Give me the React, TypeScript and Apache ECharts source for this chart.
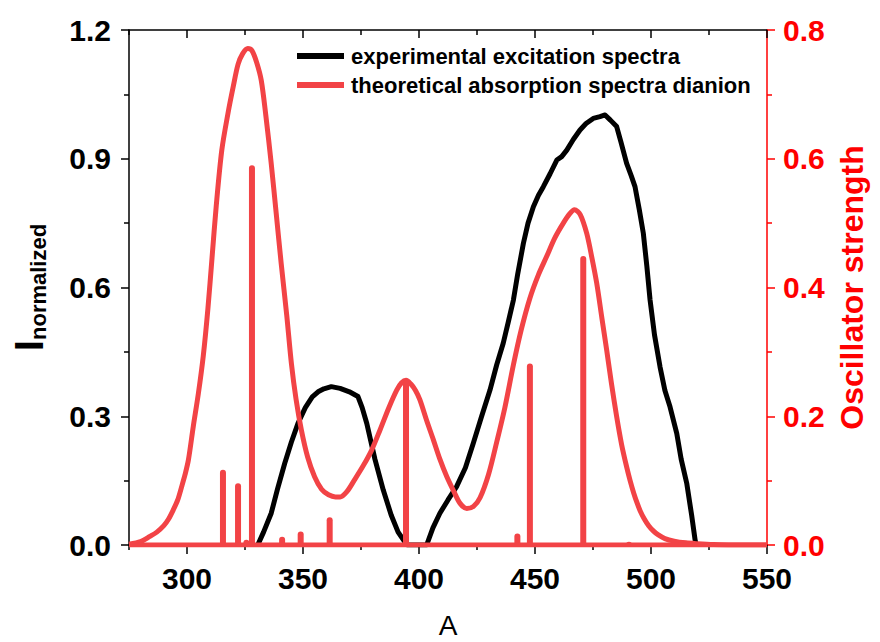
import React, { useEffect, useRef } from "react";
import * as echarts from "echarts";

// Experimental excitation spectrum (left axis, normalized)
const expX = [330.5, 333, 336.3, 339, 342.1, 345, 347.8, 351, 354, 356.5, 359, 362.2, 366, 370, 373.7, 375.5, 377.5, 381, 384.6, 388, 391, 393.5, 395,
  403.3, 406, 409, 412.5, 416.2, 420, 423.4, 427, 430.6, 433.5, 436.3, 438.5, 440.7, 442.5, 445, 447, 449.3, 451.5, 453.6, 456.5, 459.4, 461.5, 463.7,
  466.5, 469.4, 472, 475.1, 478, 480.2, 482.5, 485.2, 487, 489.5, 491.5, 493.1, 495, 496.7, 498.2, 499.6, 501.5, 503.9, 506, 508.2, 511.1, 513, 515.4,
  517.5, 519, 519.5];
const expY = [0, 0.03, 0.074, 0.13, 0.19, 0.24, 0.283, 0.32, 0.345, 0.357, 0.364, 0.369, 0.365, 0.357, 0.346, 0.32, 0.283, 0.2, 0.128, 0.07, 0.03, 0.01, 0,
  0, 0.04, 0.074, 0.105, 0.136, 0.18, 0.237, 0.3, 0.361, 0.42, 0.47, 0.52, 0.571, 0.63, 0.703, 0.75, 0.788, 0.815, 0.835, 0.865, 0.897, 0.905, 0.92,
  0.945, 0.967, 0.982, 0.994, 0.998, 1.002, 0.99, 0.975, 0.94, 0.889, 0.86, 0.835, 0.78, 0.726, 0.65, 0.571, 0.49, 0.415, 0.36, 0.322, 0.26, 0.2, 0.144,
  0.07, 0.012, 0];

// Theoretical absorption spectrum (left axis scale)
const theoX = [275, 280, 284, 287, 290, 292, 294.1, 296, 297.7, 299.2, 300.6, 302.7, 304.9, 307, 309, 310.8, 312.6, 315, 317.7, 320, 322, 324, 326.2,
  328, 330, 332, 334, 336.3, 338.5, 340.6, 343, 345, 347, 349.3, 352, 355, 358, 361, 364, 366, 369, 372, 376, 379.5, 383.2, 387, 390.4, 392.5, 394.4,
  396.5, 398.5, 400.4, 403.3, 406.2, 409, 412, 415, 417.7, 420.6, 423.5, 426.3, 430, 433.5, 437, 440.7, 444, 447.8, 451.5, 455, 458.5, 462.2, 465, 467,
  469.5, 472.3, 474.5, 476.6, 478.8, 480.9, 483, 485.2, 487.3, 489.5, 491, 492.5, 494, 495.3, 497, 499, 501, 503, 506, 510, 515, 520, 527, 535, 550];
const theoY = [0.002, 0.008, 0.02, 0.03, 0.045, 0.06, 0.082, 0.105, 0.136, 0.165, 0.198, 0.276, 0.353, 0.44, 0.55, 0.67, 0.79, 0.92, 1.007, 1.07, 1.12,
  1.145, 1.157, 1.152, 1.125, 1.083, 1.0, 0.889, 0.77, 0.656, 0.535, 0.423, 0.34, 0.268, 0.205, 0.159, 0.13, 0.117, 0.112, 0.112, 0.125, 0.15, 0.185,
  0.22, 0.268, 0.32, 0.361, 0.378, 0.384, 0.375, 0.36, 0.338, 0.29, 0.245, 0.2, 0.159, 0.125, 0.097, 0.085, 0.09, 0.11, 0.165, 0.24, 0.32, 0.42, 0.5,
  0.575, 0.63, 0.672, 0.715, 0.75, 0.772, 0.781, 0.77, 0.726, 0.67, 0.61, 0.53, 0.454, 0.375, 0.299, 0.235, 0.182, 0.15, 0.122, 0.098, 0.08, 0.062,
  0.045, 0.033, 0.024, 0.015, 0.009, 0.005, 0.003, 0.001, 0, 0];

// Oscillator strengths (right axis)
const stickX = [315.5, 322, 325.6, 328, 341, 349, 361.5, 394.4, 442.4, 447.8, 470.8, 490.5];
const stickY = [0.117, 0.096, 0.008, 0.59, 0.013, 0.021, 0.043, 0.256, 0.018, 0.282, 0.449, 0.005];
const stickBaseX = [275, 550];
const stickBaseY = [0, 0];

const xMajor = [300, 350, 400, 450, 500, 550];
const xMinor = [275, 325, 375, 425, 475, 525];

const RED = "#F24346";
const AXIS_RED = "#FF0000";
const FONT = "Liberation Sans, Arial, sans-serif";

export default function App() {
  const ref = useRef<HTMLDivElement>(null);
  useEffect(() => {
    if (!ref.current) return;
    const chart = echarts.init(ref.current, undefined, { renderer: "svg" });
    const baseX = { type: "value", min: 275, max: 550, splitLine: { show: false } };
    chart.setOption({
      animation: false,
      backgroundColor: "#ffffff",
      textStyle: { fontFamily: FONT },
      grid: { left: 129, right: 113, top: 30, bottom: 97, containLabel: false, outerBoundsMode: "none" },
      legend: {
        data: ["experimental excitation spectra", "theoretical absorption spectra dianion"],
        orient: "vertical",
        left: 297,
        top: 45,
        padding: 0,
        icon: "rect",
        itemWidth: 47,
        itemHeight: 6,
        itemGap: 7,
        textStyle: { fontSize: 22, fontWeight: "bold", color: "#000", fontFamily: FONT, lineHeight: 22, padding: [0, 0, 0, 2] },
      },
      xAxis: [
        {
          ...baseX,
          position: "bottom",
          name: "A",
          nameLocation: "middle",
          nameGap: 66,
          nameTextStyle: { fontSize: 28, color: "#000", fontFamily: FONT },
          axisLine: { show: true, onZero: false, lineStyle: { color: "#000", width: 1.5 } },
          axisTick: { show: true, customValues: xMajor, length: 9, lineStyle: { color: "#000", width: 1.5 } },
          axisLabel: { customValues: xMajor, fontSize: 30, fontWeight: "bold", color: "#000", margin: 18, fontFamily: FONT },
        },
        {
          ...baseX,
          position: "bottom",
          axisLine: { show: false, onZero: false },
          axisTick: { show: true, customValues: xMinor, length: 5, lineStyle: { color: "#000", width: 1.5 } },
          axisLabel: { show: false },
        },
        {
          ...baseX,
          position: "top",
          axisLine: { show: true, onZero: false, lineStyle: { color: "#000", width: 1.5 } },
          axisTick: { show: true, inside: true, customValues: xMajor, length: 8, lineStyle: { color: "#000", width: 1.5 } },
          axisLabel: { show: false },
        },
        {
          ...baseX,
          position: "top",
          axisLine: { show: false, onZero: false },
          axisTick: { show: true, inside: true, customValues: xMinor, length: 5, lineStyle: { color: "#000", width: 1.5 } },
          axisLabel: { show: false },
        },
      ],
      yAxis: [
        {
          type: "value",
          position: "left",
          min: 0,
          max: 1.2,
          interval: 0.3,
          name: "{i|I}{s|normalized}",
          nameLocation: "middle",
          nameRotate: 90,
          nameGap: 80,
          nameTextStyle: {
            rich: {
              i: { fontSize: 40, fontWeight: "bold", color: "#000", fontFamily: FONT, verticalAlign: "bottom" },
              s: { fontSize: 22, fontWeight: "bold", color: "#000", fontFamily: FONT, verticalAlign: "bottom" },
            },
          },
          splitLine: { show: false },
          axisLine: { show: true, onZero: false, lineStyle: { color: "#000", width: 1.5 } },
          axisTick: { show: true, length: 8, lineStyle: { color: "#000", width: 1.5 } },
          minorTick: { show: true, splitNumber: 2, length: 5, lineStyle: { color: "#000", width: 1.5 } },
          axisLabel: { fontSize: 30, fontWeight: "bold", color: "#000", margin: 18, fontFamily: FONT, formatter: (v: number) => v.toFixed(1) },
        },
        {
          type: "value",
          position: "right",
          min: 0,
          max: 0.8,
          interval: 0.2,
          name: "Oscillator strength",
          nameLocation: "middle",
          nameRotate: 90,
          nameGap: 68,
          nameTextStyle: { fontSize: 32, fontWeight: "bold", color: AXIS_RED, fontFamily: FONT },
          splitLine: { show: false },
          axisLine: { show: true, onZero: false, lineStyle: { color: AXIS_RED, width: 1.5 } },
          axisTick: { show: true, length: 8, lineStyle: { color: AXIS_RED, width: 1.5 } },
          minorTick: { show: true, splitNumber: 2, length: 5, lineStyle: { color: AXIS_RED, width: 1.5 } },
          axisLabel: { fontSize: 30, fontWeight: "bold", color: AXIS_RED, margin: 16, fontFamily: FONT, formatter: (v: number) => v.toFixed(1) },
        },
      ],
      series: [
        {
          name: "experimental excitation spectra",
          type: "line",
          xAxisIndex: 0,
          yAxisIndex: 0,
          data: expX.map((x, i) => [x, expY[i]]),
          symbol: "none",
          lineStyle: { color: "#000", width: 5, join: "round" },
          itemStyle: { color: "#000" },
          z: 2,
        },
        {
          name: "theoretical absorption spectra dianion",
          type: "line",
          xAxisIndex: 0,
          yAxisIndex: 0,
          data: theoX.map((x, i) => [x, theoY[i]]),
          symbol: "none",
          smooth: 0.3,
          lineStyle: { color: RED, width: 5, join: "round" },
          itemStyle: { color: RED },
          z: 3,
        },
        {
          name: "stickBase",
          type: "line",
          xAxisIndex: 0,
          yAxisIndex: 1,
          data: stickBaseX.map((x, i) => [x, stickBaseY[i]]),
          symbol: "none",
          lineStyle: { color: RED, width: 5 },
          itemStyle: { color: RED },
          z: 3,
        },
        {
          name: "sticks",
          type: "bar",
          xAxisIndex: 0,
          yAxisIndex: 1,
          data: stickX.map((x, i) => [x, stickY[i]]),
          barWidth: 6,
          itemStyle: { color: RED, borderRadius: [3, 3, 0, 0] },
          z: 4,
        },
      ],
    });
    return () => chart.dispose();
  }, []);
  return <div ref={ref} style={{ position: "fixed", left: 0, top: 0, width: 880, height: 642 }} />;
}
